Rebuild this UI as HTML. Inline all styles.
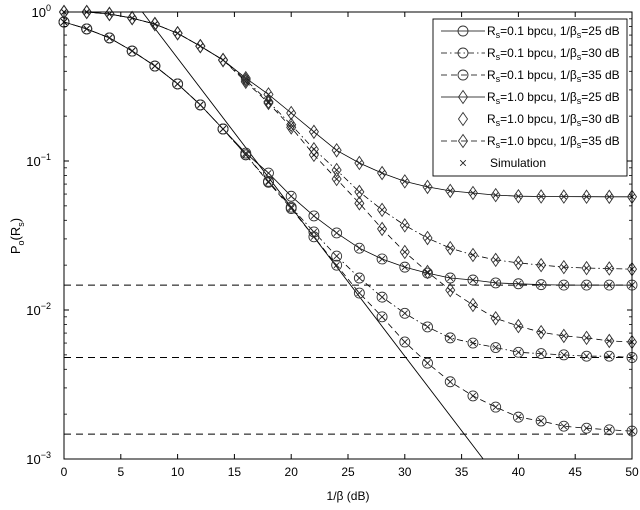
<!DOCTYPE html>
<html><head><meta charset="utf-8">
<style>
html,body{margin:0;padding:0;background:#fff;}
svg{display:block;font-family:"Liberation Sans",sans-serif;}
</style></head>
<body>
<svg id="chart" width="640" height="510" viewBox="0 0 640 510" xmlns="http://www.w3.org/2000/svg">
<rect x="0" y="0" width="640" height="510" fill="#fff"/>
<g id="grid"></g>
<g id="series"></g>
<rect x="64" y="12" width="568" height="447" fill="none" stroke="#000" stroke-width="1"/>
<g id="ticks"></g>
<text x="348" y="500" font-size="12" text-anchor="middle">1/β (dB)</text>
<text transform="translate(20,236) rotate(-90)" font-size="13" text-anchor="middle">P<tspan font-size="9" dy="4">o</tspan><tspan dy="-4">(R</tspan><tspan font-size="9" dy="4">s</tspan><tspan dy="-4">)</tspan></text>
<g id="legend"></g>
</svg>
<script>
const snrDb = [0,2,4,6,8,10,12,14,16,18,20,22,24,26,28,30,32,34,36,38,40,42,44,46,48,50];
const rs01_25 = [0.857,0.77,0.67,0.547,0.434,0.329,0.238,0.164,0.113,0.083,0.058,0.0428,0.0329,0.026,0.022,0.0194,0.0177,0.0164,0.0159,0.0152,0.015,0.0148,0.0147,0.0147,0.0147,0.0147];
const rs01_30 = [0.857,0.77,0.67,0.547,0.434,0.329,0.238,0.164,0.11,0.073,0.049,0.0334,0.023,0.0164,0.0122,0.0095,0.0077,0.0065,0.006,0.0056,0.0052,0.0051,0.005,0.0049,0.0049,0.0048];
const rs01_35 = [0.857,0.77,0.67,0.547,0.434,0.329,0.238,0.164,0.11,0.072,0.048,0.031,0.020,0.013,0.009,0.0061,0.0044,0.0033,0.00265,0.00223,0.00191,0.0018,0.00166,0.00161,0.00157,0.00154];
const rs10_25 = [1.0,1.0,0.97,0.91,0.83,0.72,0.59,0.476,0.36,0.28,0.21,0.157,0.118,0.097,0.083,0.073,0.067,0.063,0.061,0.059,0.058,0.0578,0.0577,0.0576,0.0575,0.0575];
const rs10_30 = [1.0,1.0,0.97,0.91,0.83,0.72,0.59,0.476,0.35,0.25,0.175,0.12,0.087,0.062,0.047,0.037,0.0304,0.026,0.0234,0.0217,0.0207,0.020,0.0194,0.0191,0.019,0.0188];
const rs10_35 = [1.0,1.0,0.97,0.91,0.83,0.72,0.59,0.476,0.34,0.245,0.168,0.11,0.0757,0.052,0.035,0.0245,0.018,0.0136,0.0108,0.0088,0.0078,0.0071,0.0067,0.0065,0.0062,0.0061];
const floorLevels = [0.0147,0.0048,0.00147];
const asymptoteOffsetDb = 6.9;
const xTicks = [0,5,10,15,20,25,30,35,40,45,50];
const yDecades = [0,-1,-2,-3];
const legendLabels = [
 ["0.1","25"],["0.1","30"],["0.1","35"],["1.0","25"],["1.0","30"],["1.0","35"]
];

const NS="http://www.w3.org/2000/svg";
const X0=64,X1=632,Y0=12,Y1=459;
function xs(v){return X0+(v-0)/(50-0)*(X1-X0);}
function ys(p){return Y0+(-Math.log10(p))/3*(Y1-Y0);}
function mk(tag,attrs,parent){const e=document.createElementNS(NS,tag);for(const k in attrs)e.setAttribute(k,attrs[k]);parent.appendChild(e);return e;}

const gSeries=document.getElementById('series');
const gTicks=document.getElementById('ticks');
const gLeg=document.getElementById('legend');
const gGrid=document.getElementById('grid');

floorLevels.forEach((f,i)=>{
  const l=mk('line',{x1:X0,x2:X1,y1:ys(f),y2:ys(f),stroke:'#000','stroke-width':1,'stroke-dasharray':'7,5'},gGrid);
  
  
});
{
  const pa=v=>Math.pow(10,-(v-asymptoteOffsetDb)/10);
  let va=asymptoteOffsetDb, vb=asymptoteOffsetDb+30;
  const l=mk('line',{x1:xs(va),y1:ys(pa(va)),x2:xs(vb),y2:ys(pa(vb)),stroke:'#000','stroke-width':0.9},gGrid);
  
  
}

const seriesDefs=[
 {d:rs01_25,m:'circle',dash:'',name:'series-rs01-25db'},
 {d:rs01_30,m:'circle',dash:'6,3,1.5,3',name:'series-rs01-30db'},
 {d:rs01_35,m:'circle',dash:'6,4',name:'series-rs01-35db'},
 {d:rs10_25,m:'diamond',dash:'',name:'series-rs10-25db'},
 {d:rs10_30,m:'diamond',dash:'6,3,1.5,3',name:'series-rs10-30db'},
 {d:rs10_35,m:'diamond',dash:'6,4',name:'series-rs10-35db'}
];
function marker(type,x,y,parent){
  let e;
  if(type==='circle') e=mk('circle',{cx:x,cy:y,r:5,fill:'none',stroke:'#333','stroke-width':0.9},parent);
  else if(type==='diamond') e=mk('path',{d:`M${x},${y-6.5}L${x+4.5},${y}L${x},${y+6.5}L${x-4.5},${y}Z`,fill:'none',stroke:'#333','stroke-width':0.9},parent);
  else e=mk('path',{d:`M${x-2.8},${y-2.8}L${x+2.8},${y+2.8}M${x-2.8},${y+2.8}L${x+2.8},${y-2.8}`,stroke:'#222','stroke-width':0.9},parent);
  return e;
}
seriesDefs.forEach(s=>{
  const g=mk('g',{},gSeries);
  
  
  const pts=snrDb.map((v,i)=>xs(v).toFixed(1)+','+ys(s.d[i]).toFixed(1)).join(' ');
  const pl=mk('polyline',{points:pts,fill:'none',stroke:'#000','stroke-width':0.8},g);
  if(s.dash)pl.setAttribute('stroke-dasharray',s.dash);
  
  
  snrDb.forEach((v,i)=>{
    const m=marker(s.m,xs(v),ys(s.d[i]),g);
    
    
    const c=marker('x',xs(v),ys(s.d[i]),g);
    
    
  });
});

xTicks.forEach(v=>{
  const x=xs(v);
  mk('line',{x1:x,x2:x,y1:Y1,y2:Y1-5,stroke:'#000'},gTicks);
  mk('line',{x1:x,x2:x,y1:Y0,y2:Y0+5,stroke:'#000'},gTicks);
  const t=mk('text',{x:x,y:Y1+17,'font-size':12,'text-anchor':'middle'},gTicks);
  t.textContent=v;
  
  
});
yDecades.forEach(e=>{
  const y=ys(Math.pow(10,e));
  mk('line',{x1:X0,x2:X0+5,y1:y,y2:y,stroke:'#000'},gTicks);
  mk('line',{x1:X1,x2:X1-5,y1:y,y2:y,stroke:'#000'},gTicks);
  const t=mk('text',{x:X0-13,y:y+5,'font-size':13,'text-anchor':'end'},gTicks);
  
  
  const a=mk('tspan',{},t);a.textContent='10';
  const b=mk('tspan',{'font-size':9,dy:-6},t);b.textContent=String(e).replace('-','−');
  if(e>-3){for(let k=2;k<10;k++){const yy=ys(k*Math.pow(10,e-1));
    mk('line',{x1:X0,x2:X0+3,y1:yy,y2:yy,stroke:'#000','stroke-width':0.8},gTicks);
    mk('line',{x1:X1,x2:X1-3,y1:yy,y2:yy,stroke:'#000','stroke-width':0.8},gTicks);}}
});

{
  const box=mk('rect',{x:433,y:19,width:194,height:157,fill:'#fff',stroke:'#000','stroke-width':0.9},gLeg);
  
  
  const rows=seriesDefs.concat([{m:'x',dash:null,name:'simulation'}]);
  rows.forEach((s,i)=>{
    const y=31+i*22;
    const g=mk('g',{},gLeg);
    
    
    if(s.dash!==null && !(i===4)){
      const l=mk('line',{x1:441,x2:485,y1:y,y2:y,stroke:'#000','stroke-width':0.8},g);
      if(s.dash)l.setAttribute('stroke-dasharray',s.dash);
    }
    marker(s.m,463,y,g);
    const t=mk('text',{x:487,y:y+4,'font-size':12},g);
    if(i<6){
      const lb=legendLabels[i];
      t.innerHTML=`R<tspan font-size="9" dy="3">s</tspan><tspan dy="-3">=${lb[0]} bpcu, 1/β</tspan><tspan font-size="9" dy="3">s</tspan><tspan dy="-3">=${lb[1]} dB</tspan>`;
    } else { t.setAttribute('x',490); t.textContent='Simulation'; }
  });
}
</script>
</body></html>
